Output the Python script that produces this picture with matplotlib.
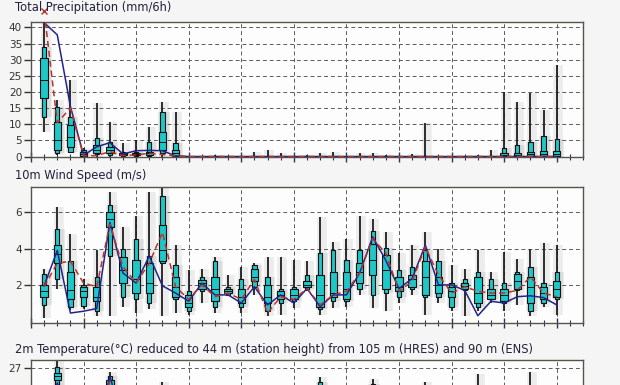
import numpy as np
import matplotlib
matplotlib.use("Agg")
import matplotlib.pyplot as plt
from matplotlib.ticker import MultipleLocator

# forecast steps (hours), 6-hourly out to day 10
steps = np.arange(6, 246, 6)

# total precipitation (mm/6h)
precip_min = [7.7, 0.5, 1.0, 0, 0, 0, 0, 0, 0, 0, 0, 0, 0, 0, 0, 0, 0, 0, 0, 0,
              0, 0, 0, 0, 0, 0, 0, 0, 0, 0, 0, 0, 0, 0, 0, 0, 0, 0, 0, 0]
precip_p10 = [12.4, 1.0, 1.5, 0.1, 0.8, 0.6, 0.1, 0.2, 0.3, 1.0, 0.1, 0, 0, 0, 0, 0, 0, 0, 0, 0,
              0, 0, 0, 0, 0, 0, 0, 0, 0, 0, 0, 0, 0, 0, 0, 0, 0, 0, 0, 0]
precip_p25 = [18.1, 2.0, 3.1, 0.3, 1.0, 1.0, 0.5, 0.5, 0.6, 2.0, 0.3, 0, 0, 0, 0, 0, 0, 0, 0, 0,
              0, 0, 0, 0, 0, 0, 0, 0, 0, 0, 0, 0, 0, 0, 0, 0.1, 0.2, 0.3, 0.3, 0.3]
precip_med = [23.8, 5.1, 6.2, 0.8, 2.0, 2.0, 0.7, 0.8, 1.0, 4.6, 1.0, 0, 0, 0, 0, 0, 0, 0, 0, 0,
              0, 0, 0, 0, 0, 0, 0, 0, 0, 0, 0, 0, 0, 0, 0, 0.5, 0.6, 0.7, 0.8, 0.8]
precip_p75 = [30.5, 10.8, 9.8, 1.5, 3.6, 3.1, 1.0, 1.2, 1.5, 7.7, 2.0, 0, 0, 0, 0, 0, 0, 0, 0, 0,
              0, 0, 0, 0, 0, 0, 0, 0, 0, 0, 0, 0, 0, 0, 0, 1.0, 1.2, 1.5, 1.6, 1.6]
precip_p90 = [34.1, 15.5, 12.4, 2.0, 5.6, 4.6, 1.3, 1.5, 4.6, 13.7, 4.2, 0, 0, 0, 0, 0, 0, 0, 0, 0,
              0, 0, 0, 0, 0, 0, 0, 0, 0, 0, 0, 0, 0, 0, 0, 2.5, 3.6, 4.6, 6.4, 5.4]
precip_max = [41.9, 17.5, 23.8, 2.5, 16.5, 10.8, 4.1, 5.1, 9.3, 17.0, 13.9, 0.3, 0.3, 0.4, 0.3, 0.2, 1.5, 2.0, 1.0, 0.3,
              0.4, 1.2, 1.5, 0.3, 1.0, 1.0, 0.5, 0.2, 0.8, 10.4, 0, 0.2, 0.3, 0.6, 2.0, 20.1, 17.0, 19.8, 14.4, 28.4]
precip_hres = [41.5, 37.7, 15.5, 0.4, 3.0, 4.3, 0.8, 1.8, 1.9, 1.8, 0.2, 0, 0, 0, 0, 0, 0, 0, 0, 0,
               0, 0, 0, 0, 0, 0, 0, 0, 0, 0, 0, 0, 0, 0, 0, 0, 0, 0, 0, 0]
precip_ctrl = [45.0, 10.5, 15.0, 0.2, 0.3, 1.5, 0.3, 0.5, 1.0, 0.6, 0.2, 0, 0, 0, 0, 0, 0, 0, 0, 0,
               0, 0, 0, 0, 0, 0, 0, 0, 0, 0, 0, 0, 0, 0, 0, 0, 0, 0, 0, 0]

# 10m wind speed (m/s)
wind_min = [0.2, 1.8, 0.6, 0.65, 0.3, 0.3, 0.8, 0.45, 0.65, 0.3, 0.45, 0.35, 1.0, 0.45, 1.4, 0.45, 1.45, 0.3, 0.35, 0.75,
            1.65, 0.35, 0.75, 0.8, 1.45, 0.75, 0.55, 1.0, 1.45, 0.35, 1.0, 0.55, 0.3, 0.55, 1.0, 0.55, 0.9, 0.3, 0.8, 0.35]
wind_p10 = [0.9, 2.3, 0.8, 0.85, 0.55, 3.6, 1.35, 1.2, 1.0, 3.2, 1.25, 0.55, 1.65, 0.8, 1.45, 0.8, 1.9, 0.55, 1.0, 1.1,
            1.8, 0.65, 1.1, 1.1, 1.8, 1.45, 1.55, 1.35, 1.8, 1.35, 1.35, 0.8, 1.7, 0.8, 1.2, 1.0, 1.7, 0.55, 1.0, 1.2]
wind_p25 = [1.35, 3.2, 1.2, 1.35, 1.1, 5.2, 2.1, 1.55, 1.55, 3.3, 1.35, 0.8, 1.8, 1.1, 1.55, 1.0, 2.2, 1.0, 1.25, 1.2,
            1.9, 0.8, 1.35, 1.25, 2.1, 2.55, 1.75, 1.65, 1.9, 1.45, 1.55, 1.35, 1.8, 1.0, 1.25, 1.1, 1.8, 1.0, 1.2, 1.35]
wind_med = [1.65, 3.7, 1.7, 1.65, 1.35, 5.65, 2.8, 2.3, 2.1, 3.9, 1.9, 1.0, 2.1, 1.8, 1.65, 1.35, 2.45, 1.35, 1.45, 1.45,
            2.0, 1.45, 1.55, 1.8, 2.7, 3.35, 2.8, 1.9, 2.3, 2.45, 2.0, 1.65, 1.95, 1.55, 1.45, 1.45, 2.2, 1.9, 1.55, 1.8]
wind_p75 = [2.0, 4.2, 2.7, 1.9, 1.9, 6.0, 3.55, 3.4, 3.2, 5.3, 2.45, 1.45, 2.25, 2.45, 1.8, 1.8, 2.9, 2.0, 1.65, 1.8,
            2.2, 2.55, 2.7, 2.7, 3.2, 4.25, 3.65, 2.45, 2.55, 3.3, 2.45, 1.9, 2.1, 2.45, 1.8, 1.8, 2.6, 2.45, 1.9, 2.2]
wind_p90 = [2.6, 5.1, 3.3, 2.0, 2.45, 6.4, 4.0, 4.55, 3.6, 6.9, 3.1, 1.65, 2.45, 3.3, 1.9, 2.3, 3.1, 2.45, 1.8, 1.9,
            2.55, 3.75, 3.9, 3.35, 3.9, 5.0, 4.05, 2.8, 3.0, 3.9, 3.3, 2.1, 2.3, 2.7, 2.3, 2.1, 2.7, 3.0, 2.1, 2.7]
wind_max = [2.9, 6.3, 4.8, 2.3, 3.9, 7.1, 5.2, 5.8, 7.1, 7.4, 4.2, 2.8, 2.9, 3.55, 2.55, 3.0, 3.2, 3.55, 3.55, 3.35,
            3.3, 5.75, 4.35, 4.55, 5.8, 5.65, 4.9, 3.75, 4.2, 4.9, 4.0, 3.1, 2.9, 3.9, 2.7, 3.8, 3.45, 4.0, 4.3, 4.2]
wind_hres = [1.95, 3.9, 0.45, 0.55, 0.7, 5.45, 2.65, 2.1, 3.6, 1.95, 1.55, 1.1, 2.1, 1.45, 1.45, 1.0, 1.9, 0.9, 1.45, 1.0,
             1.8, 0.8, 1.45, 1.45, 2.65, 4.65, 3.35, 1.8, 2.35, 4.2, 2.0, 2.0, 1.7, 0.3, 1.1, 1.0, 1.35, 1.4, 1.3, 0.9]
wind_ctrl = [1.9, 3.2, 3.3, 2.1, 1.9, 5.35, 3.0, 2.1, 3.2, 4.9, 1.9, 1.2, 2.0, 1.35, 1.55, 1.2, 2.3, 0.45, 1.35, 1.2,
             1.8, 0.9, 1.45, 1.65, 2.65, 4.55, 3.75, 1.65, 2.2, 4.1, 2.55, 1.55, 1.9, 1.65, 1.55, 1.55, 1.7, 2.45, 1.55, 1.35]

# 2m temperature (deg C), only the daytime tops show inside the cropped image
temp_min = [20.5, 24.8, 21.5, 18.2, 19.8, 23.0, 20.5, 17.5, 19.0, 21.5, 19.6, 16.8, 18.5, 21.0, 19.3, 16.5, 18.2, 20.6, 19.0, 16.2,
            18.0, 21.2, 19.2, 16.4, 18.1, 21.0, 19.0, 16.0, 17.8, 20.5, 18.8, 15.8, 17.6, 20.3, 18.7, 15.6, 17.5, 20.2, 18.6, 15.5]
temp_p10 = [21.0, 25.4, 22.0, 18.7, 20.4, 24.0, 21.2, 18.2, 19.8, 22.5, 20.4, 17.5, 19.3, 22.0, 20.1, 17.2, 19.0, 21.6, 19.8, 17.0,
            18.8, 22.4, 20.0, 17.2, 19.0, 22.2, 19.8, 16.8, 18.7, 21.7, 19.6, 16.6, 18.5, 21.6, 19.6, 16.4, 18.4, 21.5, 19.5, 16.3]
temp_p25 = [21.3, 25.9, 22.4, 19.0, 20.8, 24.8, 21.8, 18.6, 20.3, 23.3, 21.0, 18.0, 19.8, 22.7, 20.7, 17.7, 19.6, 22.3, 20.4, 17.5,
            19.4, 23.2, 20.6, 17.7, 19.6, 23.0, 20.4, 17.4, 19.3, 22.5, 20.3, 17.2, 19.1, 22.5, 20.2, 17.0, 19.0, 22.4, 20.1, 16.9]
temp_med = [21.6, 26.3, 22.8, 19.3, 21.1, 25.4, 22.2, 19.0, 20.7, 23.9, 21.5, 18.4, 20.2, 23.3, 21.2, 18.1, 20.0, 22.9, 20.9, 17.9,
            19.9, 23.9, 21.1, 18.1, 20.1, 23.7, 21.0, 17.9, 19.8, 23.2, 20.8, 17.7, 19.7, 23.2, 20.8, 17.6, 19.6, 23.1, 20.7, 17.5]
temp_p75 = [21.9, 26.6, 23.2, 19.6, 21.5, 25.9, 22.6, 19.4, 21.1, 24.5, 22.0, 18.8, 20.6, 23.9, 21.7, 18.5, 20.4, 23.5, 21.4, 18.3,
            20.4, 24.6, 21.7, 18.6, 20.6, 24.5, 21.6, 18.4, 20.4, 23.9, 21.4, 18.2, 20.3, 24.0, 21.4, 18.1, 20.2, 23.9, 21.3, 18.0]
temp_p90 = [22.2, 27.1, 23.6, 19.9, 21.9, 26.3, 23.0, 19.8, 21.6, 25.0, 22.5, 19.2, 21.1, 24.5, 22.2, 18.9, 20.9, 24.1, 21.9, 18.8,
            20.9, 25.7, 22.2, 19.1, 21.1, 25.55, 22.1, 18.9, 20.9, 24.7, 22.0, 18.8, 20.9, 24.9, 22.0, 18.7, 20.8, 24.9, 21.9, 18.6]
temp_max = [22.8, 27.8, 24.3, 20.4, 22.5, 26.65, 23.8, 20.5, 22.4, 25.7, 23.3, 20.0, 21.9, 25.2, 23.0, 19.8, 21.7, 25.0, 22.8, 19.7,
            21.8, 26.2, 23.1, 20.0, 22.0, 26.0, 23.0, 19.9, 21.9, 25.7, 23.0, 19.8, 21.9, 26.5, 23.1, 19.8, 21.9, 26.65, 23.0, 19.7]
temp_hres = [21.5, 25.6, 22.6, 19.2, 21.0, 26.2, 22.1, 19.0, 20.6, 23.8, 21.4, 18.3, 20.1, 23.2, 21.1, 18.0, 19.9, 22.8, 20.8, 17.9,
             19.8, 23.8, 21.0, 18.0, 20.0, 23.6, 20.9, 17.8, 19.7, 23.1, 20.7, 17.6, 19.6, 23.1, 20.7, 17.5, 19.5, 23.0, 20.6, 17.4]
temp_ctrl = [21.4, 25.3, 22.5, 19.1, 20.9, 25.8, 22.0, 18.9, 20.5, 23.6, 21.3, 18.2, 20.0, 23.1, 21.0, 17.9, 19.8, 22.7, 20.7, 17.8,
             19.7, 23.7, 20.9, 17.9, 19.9, 23.5, 20.8, 17.7, 19.6, 23.0, 20.6, 17.5, 19.5, 23.0, 20.6, 17.4, 19.4, 22.9, 20.5, 17.3]

box_color = '#1ec8c8'
hres_color = '#23238c'
ctrl_color = '#b5352c'
grid_color = '#5a5a5a'


def draw_panel(ax, q, hres, ctrl, ylim, yticks):
    mn, p10, p25, med, p75, p90, mx = [np.asarray(a, dtype=float) for a in q]
    show = p90 > 0
    # soft grey halo, the reference has blurred shadows everywhere
    ax.vlines(steps + 0.8, mn, mx, colors='grey', lw=7, alpha=0.13, zorder=1)
    ax.bar(steps[show] + 0.8, (p90 - p10)[show], bottom=p10[show], width=5.5,
           color='grey', alpha=0.15, lw=0, zorder=1)
    ax.vlines(steps, mn, mx, colors='#1e1e1e', lw=1.3, zorder=2)
    ax.bar(steps[show], (p90 - p10)[show], bottom=p10[show], width=2.0,
           color=box_color, edgecolor='#111111', lw=0.8, zorder=3)
    ax.bar(steps[show], (p75 - p25)[show], bottom=p25[show], width=3.4,
           color=box_color, edgecolor='#111111', lw=0.8, zorder=3)
    ax.hlines(med[show], steps[show] - 1.7, steps[show] + 1.7, colors='#111111', lw=0.7, zorder=4)
    ax.plot(steps, hres, color=hres_color, lw=1.1, zorder=5)
    ax.plot(steps, ctrl, color=ctrl_color, lw=1.1, ls=(0, (4, 2.5)), zorder=5)

    ax.set_xlim(0, 252)
    ax.set_ylim(*ylim)
    ax.set_yticks(yticks)
    ax.set_facecolor('#fdfdfd')
    ax.xaxis.set_major_locator(MultipleLocator(24))
    ax.xaxis.set_minor_locator(MultipleLocator(6))
    ax.tick_params(axis='x', which='major', direction='inout', length=7, width=1.0,
                   color='#333355', labelbottom=False)
    ax.tick_params(axis='x', which='minor', direction='inout', length=4, width=0.8, color='#333355')
    ax.tick_params(axis='y', direction='out', length=5, width=1.0, pad=1.5,
                   labelsize=7.5, colors='#333333')
    ax.grid(True, which='major', ls=(0, (4, 3)), color=grid_color, lw=0.7)
    for s in ax.spines.values():
        s.set_color('#55554a')
        s.set_linewidth(1.0)


fig = plt.figure(figsize=(6.2, 3.85), dpi=100, facecolor='#f5f5f5')
left, width = 31 / 620, 552 / 620

ax1 = fig.add_axes([left, 1 - 157 / 385, width, 135 / 385])
draw_panel(ax1, [precip_min, precip_p10, precip_p25, precip_med, precip_p75, precip_p90, precip_max],
           precip_hres, precip_ctrl, (-0.15, 41.7), np.arange(0, 45, 5))
# the control run goes off the top of the precipitation panel at the first step
ax1.plot(steps[:1], precip_ctrl[:1], marker='x', ms=4, mew=1.0, color=ctrl_color,
         ls='none', clip_on=False, zorder=6)

ax2 = fig.add_axes([left, 1 - 323 / 385, width, 136 / 385])
draw_panel(ax2, [wind_min, wind_p10, wind_p25, wind_med, wind_p75, wind_p90, wind_max],
           wind_hres, wind_ctrl, (-0.1, 7.4), [2, 4, 6])

ax3 = fig.add_axes([left, 1 - 496 / 385, width, 136 / 385])
draw_panel(ax3, [temp_min, temp_p10, temp_p25, temp_med, temp_p75, temp_p90, temp_max],
           temp_hres, temp_ctrl, (14.8, 27.8), [27])
ax3.yaxis.set_minor_locator(MultipleLocator(3))
ax3.grid(True, which='minor', axis='y', ls=(0, (4, 3)), color=grid_color, lw=0.7)
ax3.tick_params(axis='y', which='minor', length=0)

title_kw = dict(fontsize=8.3, color='#22223a', ha='left', va='center')
fig.text(15 / 620, 1 - 8 / 385, 'Total Precipitation (mm/6h)', **title_kw)
fig.text(15 / 620, 1 - 175 / 385, '10m Wind Speed (m/s)', **title_kw)
fig.text(15 / 620, 1 - 349 / 385,
         '2m Temperature(\u00b0C) reduced to 44 m (station height) from 105 m (HRES) and 90 m (ENS)',
         **title_kw)

fig.savefig('out.png', dpi=100, facecolor=fig.get_facecolor())
